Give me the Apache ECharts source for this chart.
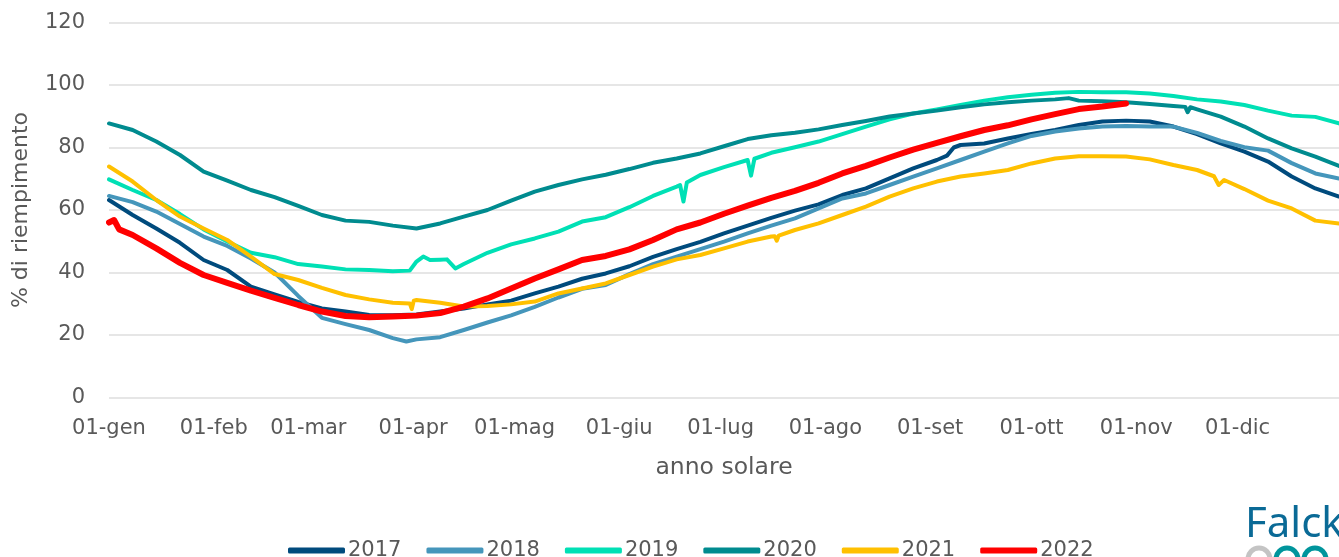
<!DOCTYPE html>
<html>
<head>
<meta charset="utf-8">
<script src="https://cdn.jsdelivr.net/npm/echarts@6/dist/echarts.min.js"></script>
<style>
  html, body { margin: 0; padding: 0; background: #fff; }
  #chartmain { width: 1339px; height: 557px; }
</style>
</head>
<body>
<div id="chartmain"></div>
<script>
// giorni dell'anno campionati (ogni 7 giorni)
const days = [0,7,14,21,28,35,42,49,56,63,70,77,84,91,98,105,112,119,126,133,140,147,154,161,168,175,182,189,196,203,210,217,224,231,238,245,252,259,266,273,280,287,294,301,308,315,322,329,336,343,350,357,364];

// etichette asse x
const monthStarts = [0,31,59,90,120,151,181,212,243,273,304,334];
const monthLabels = ['01-gen','01-feb','01-mar','01-apr','01-mag','01-giu','01-lug','01-ago','01-set','01-ott','01-nov','01-dic'];

const years = ['2017','2018','2019','2020','2021','2022'];

// % di riempimento
const v2017 = [63.2,58.4,54.1,49.5,44.0,40.8,35.5,33.0,30.6,28.5,27.5,
  26.4,26.3,26.6,27.5,28.5,29.8,31.0,33.3,35.5,38.0,
  39.7,42.0,45.0,47.5,49.8,52.5,55.0,57.5,59.8,61.8,64.8,
  66.9,70.1,73.3,76.0,80.8,81.3,82.9,84.3,85.6,87.2,
  88.3,88.6,88.3,86.7,84.3,81.3,78.7,75.5,70.7,66.9,64.3];
const v2018 = [64.5,62.5,59.5,55.5,51.5,48.5,44.5,40.0,32.5,25.5,23.5,
  21.6,19.0,18.6,19.3,21.6,24.0,26.3,29.0,32.0,34.8,
  36.0,39.5,42.7,45.1,47.5,49.9,52.5,55.0,57.3,60.5,63.7,
  65.3,68.0,70.7,73.3,76.0,78.7,81.3,83.7,85.1,86.1,
  86.7,86.9,86.7,86.7,84.7,82.1,80.1,79.0,75.0,71.7,70.1];
const v2019 = [69.8,66.4,63.2,58.7,53.8,49.9,46.3,44.9,42.7,41.9,41.0,
  40.8,40.4,43.5,44.1,42.7,46.3,49.0,50.9,53.1,56.3,
  57.7,60.9,64.5,67.5,71.2,73.7,76.0,78.3,80.1,81.9,84.3,
  86.7,89.0,90.9,92.2,93.6,95.0,96.1,96.9,97.5,97.8,
  97.7,97.7,97.3,96.5,95.4,94.7,93.6,91.8,90.2,89.8,87.7];
const v2020 = [87.7,85.6,81.9,77.6,72.3,69.4,66.4,64.1,61.3,58.4,56.6,
  56.2,55.0,54.1,55.7,57.9,60.0,63.0,65.9,68.0,69.8,
  71.3,73.1,75.1,76.5,78.1,80.4,82.7,83.9,84.7,85.8,87.2,
  88.5,89.9,90.9,91.8,92.9,93.8,94.5,95.0,95.4,95.0,
  94.8,94.5,93.9,93.3,92.2,89.9,86.7,82.9,79.7,77.1,74.1];
const v2021 = [73.9,69.1,63.2,57.9,54.1,50.4,45.1,39.5,37.6,35.1,32.8,
  31.4,30.3,31.2,30.3,29.1,29.3,29.8,30.7,33.3,34.9,
  36.5,39.2,41.9,44.2,45.6,47.7,49.9,51.5,53.6,55.7,58.4,
  61.1,64.3,66.9,69.1,70.7,71.7,72.8,74.9,76.5,77.2,
  77.2,77.1,76.2,74.4,72.8,68.6,66.7,63.0,60.5,56.6,55.7];
const v2022 = [56.0,52.0,47.7,43.1,39.2,36.7,34.2,31.9,29.6,27.5,26.1,
  25.7,25.9,26.2,27.0,29.1,31.7,34.9,38.1,41.0,44.0,
  45.3,47.4,50.4,53.8,56.0,58.8,61.4,63.9,66.1,68.7,71.7,
  74.1,76.8,79.3,81.5,83.6,85.6,87.1,89.0,90.7,92.3,
  93.1,94.1,null,null,null,null,null,null,null,null,null];

// punti aggiuntivi (salti e picchi) [giorno, valore]
const ext2017 = [[248,77.4],[250,80.0]];
const ext2018 = [[88,17.9]];
const ext2019 = [[89,40.6],[93,45.1],[95,44.0],[100,44.2],[102.5,41.3],[169,68.0],[170,62.7],[171,68.8],[190,71.0],[191,76.4]];
const ext2020 = [[284,95.8],[318.5,93.0],[319.2,91.3],[320,92.9]];
const ext2021 = [[89,30.1],[89.6,28.3],[90.2,31.0],[197,51.6],[197.6,50.2],[198.2,51.8],[327,70.8],[328.4,68.0],[330,69.6]];
const ext2022 = [[1.5,56.8],[3,53.8]];

const colors = ['#004b7d','#4596bb','#00e0b5','#008b8f','#ffc000','#ff0000'];

function build(vals, extra){
  return days.map((d,i)=>[d, vals[i]])
    .filter(p => p[1] != null)
    .concat(extra)
    .sort((a,b)=>a[0]-b[0]);
}

const allVals = [v2017, v2018, v2019, v2020, v2021, v2022];
const allExt = [ext2017, ext2018, ext2019, ext2020, ext2021, ext2022];

const txt = '#595959';
const fontFam = '"DejaVu Sans", sans-serif';

let chartmain = echarts.init(document.getElementById('chartmain'));
let option = {
  animation: false,
  color: colors,
  grid: { left: 109, top: 22.5, width: 1231.4, height: 375 },
  legend: {
    data: years,
    left: 283,
    top: 535,
    itemWidth: 57,
    itemHeight: 6,
    itemGap: 25,
    icon: 'roundRect',
    textStyle: { color: txt, fontSize: 21, fontFamily: fontFam, padding: [0,0,0,-2] }
  },
  xAxis: {
    type: 'value',
    min: 0,
    max: 364,
    name: 'anno solare',
    nameLocation: 'middle',
    nameGap: 58,
    nameTextStyle: { color: txt, fontSize: 23.5, fontFamily: fontFam },
    axisLine: { show: false },
    axisTick: { show: false },
    splitLine: { show: false },
    axisLabel: {
      customValues: monthStarts,
      formatter: v => monthLabels[monthStarts.indexOf(v)],
      color: txt, fontSize: 21, fontFamily: fontFam, margin: 21
    }
  },
  yAxis: {
    type: 'value',
    min: 0,
    max: 120,
    interval: 20,
    name: '% di riempimento',
    nameLocation: 'middle',
    nameGap: 77,
    nameTextStyle: { color: txt, fontSize: 22, fontFamily: fontFam },
    axisLine: { show: false },
    axisTick: { show: false },
    axisLabel: { color: txt, fontSize: 21, fontFamily: fontFam, margin: 24 },
    splitLine: { lineStyle: { color: '#dedede', width: 1.5 } }
  },
  series: years.map((y, i) => ({
    name: y,
    type: 'line',
    data: build(allVals[i], allExt[i]),
    showSymbol: false,
    symbol: 'none',
    lineStyle: { width: y === '2022' ? 6 : 4, color: colors[i], cap: 'round', join: 'round' },
    itemStyle: { color: colors[i] }
  })),
  graphic: [
    {
      type: 'text', left: 1245, top: 504,
      style: {
        text: 'Falck',
        font: '42px "Noto Sans", sans-serif',
        fill: '#0a6a96'
      }
    },
    { type: 'circle', shape: { cx: 1259, cy: 559, r: 11 }, style: { fill: 'none', stroke: '#c4c4c4', lineWidth: 5 } },
    { type: 'circle', shape: { cx: 1287, cy: 559, r: 11 }, style: { fill: 'none', stroke: '#00959c', lineWidth: 5 } },
    { type: 'circle', shape: { cx: 1315, cy: 559, r: 11 }, style: { fill: 'none', stroke: '#00959c', lineWidth: 5 } }
  ]
};
chartmain.setOption(option);
</script>
</body>
</html>
